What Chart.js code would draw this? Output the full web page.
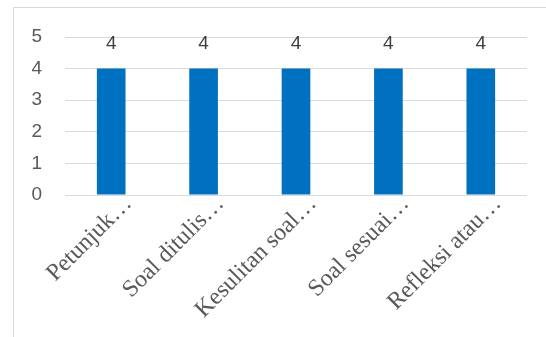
<!DOCTYPE html>
<html><head><meta charset="utf-8">
<script src="https://cdn.jsdelivr.net/npm/chart.js@4/dist/chart.umd.min.js"></script>
<style>
html,body{margin:0;padding:0;background:#fff;overflow:hidden}
#wrap{position:relative;width:546px;height:337px}
#frame{position:absolute;left:13px;top:7px;width:560px;height:360px;border:1px solid #d9d9d9;box-sizing:border-box}
canvas{position:absolute;left:0;top:0}
</style></head><body>
<div id="wrap"><div id="frame"></div><canvas id="c" width="546" height="337"></canvas></div>
<script>
const categories = ["Petunjuk…", "Soal ditulis…", "Kesulitan soal…", "Soal sesuai…", "Refleksi atau…"];
const values = [4, 4, 4, 4, 4];
const yTicks = [0, 1, 2, 3, 4, 5];

const dataLabels = {
  id: 'dataLabels',
  afterDatasetsDraw(chart) {
    const ctx = chart.ctx;
    const meta = chart.getDatasetMeta(0);
    ctx.save();
    ctx.font = '19px "Liberation Sans", Arial, sans-serif';
    ctx.fillStyle = '#404040';
    ctx.textAlign = 'center';
    ctx.textBaseline = 'middle';
    meta.data.forEach((bar, i) => {
      ctx.fillText(String(values[i]), bar.x, bar.y - 25);
    });
    ctx.restore();
  }
};

new Chart(document.getElementById('c'), {
  type: 'bar',
  data: {
    labels: categories,
    datasets: [{
      data: values,
      backgroundColor: '#0070c0',
      borderWidth: 0,
      barPercentage: 0.31,
      categoryPercentage: 1
    }]
  },
  options: {
    responsive: false,
    animation: false,
    events: [],
    layout: { padding: { left: 0, right: 19, top: 37, bottom: 0 } },
    plugins: { legend: { display: false }, tooltip: { enabled: false } },
    scales: {
      y: {
        min: 0, max: 5,
        afterBuildTicks(scale) { scale.ticks = yTicks.map(v => ({ value: v })); },
        afterFit(scale) { scale.width = 65; },
        grid: { color: '#d9d9d9', lineWidth: 1, drawTicks: false },
        border: { display: false },
        ticks: {
          padding: 23,
          color: '#595959',
          font: { family: '"Liberation Sans", Arial, sans-serif', size: 19 }
        }
      },
      x: {
        afterFit(scale) { scale.height = 142; },
        grid: { display: false, drawTicks: false },
        border: { display: false },
        ticks: {
          minRotation: 45, maxRotation: 45,
          autoSkip: false,
          padding: 0,
          labelOffset: 17,
          color: '#595959',
          font: { family: '"Liberation Serif", "Times New Roman", serif', size: 24, lineHeight: 0.6 }
        }
      }
    }
  },
  plugins: [dataLabels]
});
</script>
</body></html>
